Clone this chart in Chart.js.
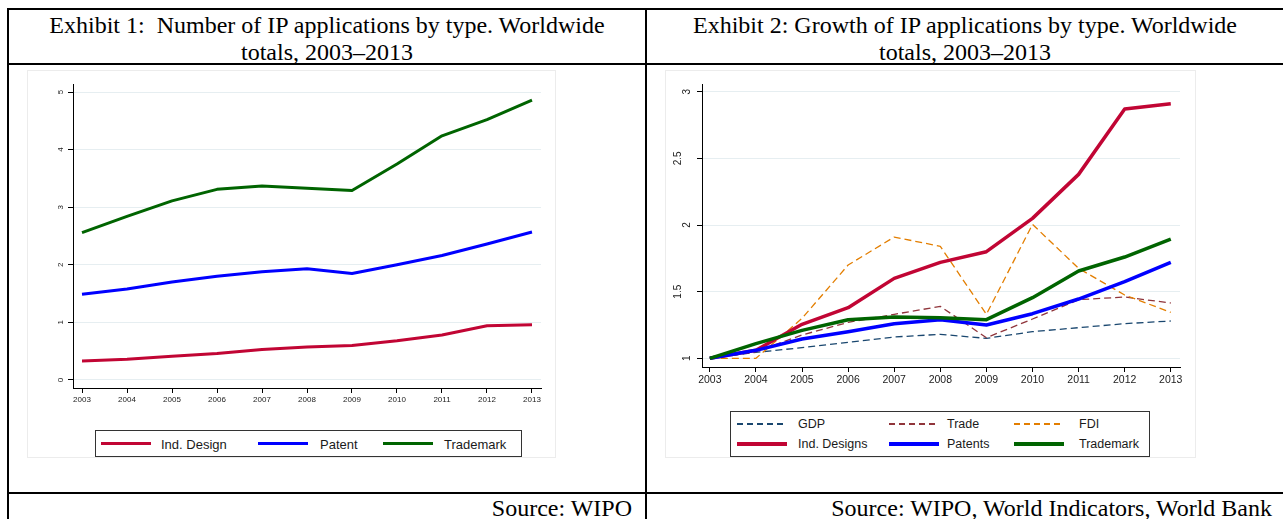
<!DOCTYPE html>
<html>
<head>
<meta charset="utf-8">
<script src="https://cdn.jsdelivr.net/npm/chart.js@4.4.1/dist/chart.umd.min.js"></script>
<style>
  body { margin:0; background:#fff; width:1283px; height:519px; overflow:hidden; position:relative; }
  .rule { position:absolute; background:#000; }
  .serif { position:absolute; font-family:"Liberation Serif","Times New Roman",serif; font-size:24px; line-height:27px; color:#000; white-space:pre; }
  .head { display:flex; align-items:center; justify-content:center; text-align:center; }
  .src { text-align:right; }
  .region { position:absolute; border:1px solid #ececec; box-sizing:border-box; }
  canvas { position:absolute; }
  .legend { position:absolute; border:1px solid #333; box-sizing:border-box; background:#fff;
            font-family:"Liberation Sans",Arial,sans-serif; color:#1a1a1a; }
  .legend .ln { position:absolute; width:50px; }
  .legend .tx { position:absolute; white-space:nowrap; transform:translateY(-50%); }
</style>
</head>
<body>
<!-- table rules -->
<div class="rule" style="left:7px;top:8px;width:1276px;height:2px"></div>
<div class="rule" style="left:7px;top:63px;width:1276px;height:2px"></div>
<div class="rule" style="left:7px;top:492px;width:1276px;height:2px"></div>
<div class="rule" style="left:7px;top:8px;width:2px;height:511px"></div>
<div class="rule" style="left:645px;top:8px;width:2px;height:511px"></div>

<div class="serif head" style="left:9px;top:12px;width:636px;height:53px">Exhibit 1:  Number of IP applications by type. Worldwide
totals, 2003–2013</div>
<div class="serif head" style="left:647px;top:12px;width:636px;height:53px">Exhibit 2: Growth of IP applications by type. Worldwide
totals, 2003–2013</div>
<div class="serif src" style="left:9px;top:495px;width:623px">Source: WIPO</div>
<div class="serif src" style="left:647px;top:495px;width:625px">Source: WIPO, World Indicators, World Bank</div>

<div class="region" style="left:27px;top:70px;width:529px;height:388px"></div>
<div class="region" style="left:665px;top:70px;width:531px;height:388px"></div>

<canvas id="countChart" width="528" height="350" style="left:27px;top:70px"></canvas>
<canvas id="growthChart" width="530" height="320" style="left:665px;top:70px"></canvas>

<div id="countLegend" class="legend" style="left:95px;top:430px;width:427px;height:27px;font-size:13px"></div>
<div id="growthLegend" class="legend" style="left:730px;top:411px;width:420px;height:46px;font-size:12.5px"></div>

<script>
// years on the x axis
const years = [2003, 2004, 2005, 2006, 2007, 2008, 2009, 2010, 2011, 2012, 2013];
const countTicks = [0, 1, 2, 3, 4, 5];
const growthTicks = [1, 1.5, 2, 2.5, 3];

// Exhibit 1: number of applications (millions)
const designCount    = [0.33, 0.36, 0.41, 0.46, 0.53, 0.57, 0.60, 0.68, 0.78, 0.94, 0.96];
const patentCount    = [1.49, 1.58, 1.70, 1.80, 1.88, 1.93, 1.85, 2.00, 2.16, 2.36, 2.57];
const trademarkCount = [2.56, 2.84, 3.11, 3.31, 3.37, 3.33, 3.29, 3.75, 4.24, 4.52, 4.86];

// Exhibit 2: growth index, 2003 = 1
const gdpGrowth       = [1.00, 1.045, 1.08, 1.12, 1.16, 1.18, 1.15, 1.20, 1.23, 1.26, 1.28];
const tradeGrowth     = [1.00, 1.05, 1.175, 1.27, 1.33, 1.39, 1.155, 1.295, 1.44, 1.46, 1.415];
const fdiGrowth       = [1.00, 1.00, 1.30, 1.70, 1.91, 1.84, 1.33, 2.005, 1.675, 1.475, 1.345];
const designGrowth    = [1.00, 1.06, 1.255, 1.38, 1.60, 1.72, 1.80, 2.05, 2.38, 2.87, 2.91];
const patentGrowth    = [1.00, 1.06, 1.145, 1.20, 1.26, 1.29, 1.25, 1.335, 1.445, 1.575, 1.72];
const trademarkGrowth = [1.00, 1.11, 1.21, 1.29, 1.31, 1.305, 1.29, 1.455, 1.655, 1.76, 1.895];

const RED = "#c10534", BLUE = "#0000ff", GREEN = "#006400";
const NAVY = "#1a476f", MAROON = "#90353b", ORANGE = "#e37e00";
const SANS = '"Liberation Sans", Arial, sans-serif';

function pts(values){
  return years.map((yr, i) => ({ x: yr, y: values[i] }));
}

function series(label, values, color, width, dash, order){
  return {
    label, data: pts(values), borderColor: color, backgroundColor: color,
    borderWidth: width, borderDash: dash || [], order,
    pointRadius: 0, tension: 0, borderJoinStyle: "round", fill: false
  };
}

// shared axis setup; sizes are fixed so the plot box lands where the original one is
function axes(o){
  return {
    x: {
      type: "linear", min: o.xMin, max: o.xMax,
      afterBuildTicks: s => { s.ticks = years.map(v => ({ value: v })); },
      afterFit: s => { s.height = o.xHeight; },
      ticks: { callback: v => String(v), autoSkip: false, maxRotation: 0,
               font: { size: o.xFont, family: SANS }, color: "#222", padding: 2 },
      grid: { drawOnChartArea: false, tickLength: 5, tickColor: "#000" },
      border: { color: "#000", width: 1 }
    },
    y: {
      min: o.yMin, max: o.yMax,
      afterBuildTicks: s => { s.ticks = o.yTicks.map(v => ({ value: v })); },
      afterFit: s => { s.width = o.yWidth; },
      ticks: { callback: o.yLabel, autoSkip: false, minRotation: 90, maxRotation: 90,
               crossAlign: "center", padding: o.yPad,
               font: { size: o.yFont, family: SANS, lineHeight: 1.8 }, color: "#222" },
      grid: { color: "#e6eef1", tickLength: 5, tickColor: "#000" },
      border: { color: "#000", width: 1 }
    }
  };
}

function baseOptions(padding, scales){
  return {
    responsive: false, animation: false, devicePixelRatio: 1,
    layout: { padding },
    plugins: { legend: { display: false }, tooltip: { enabled: false } },
    scales
  };
}

const countChart = new Chart(document.getElementById("countChart"), {
  type: "line",
  data: { datasets: [
    series("Ind. Design", designCount, RED, 3, null, 3),
    series("Patent", patentCount, BLUE, 3, null, 2),
    series("Trademark", trademarkCount, GREEN, 3, null, 1)
  ]},
  options: baseOptions({ left: 0, top: 14, right: 14, bottom: 0 }, axes({
    xMin: 2002.8, xMax: 2013.2, xHeight: 32, xFont: 8,
    yMin: -0.14, yMax: 5.14, yTicks: countTicks, yWidth: 46, yFont: 8, yPad: 5,
    yLabel: v => String(v)
  }))
});

const growthChart = new Chart(document.getElementById("growthChart"), {
  type: "line",
  data: { datasets: [
    series("GDP", gdpGrowth, NAVY, 1.3, [7, 4], 6),
    series("Trade", tradeGrowth, MAROON, 1.3, [7, 4], 5),
    series("FDI", fdiGrowth, ORANGE, 1.3, [7, 4], 4),
    series("Ind. Designs", designGrowth, RED, 3.5, null, 3),
    series("Patents", patentGrowth, BLUE, 3.5, null, 2),
    series("Trademark", trademarkGrowth, GREEN, 3.5, null, 1)
  ]},
  options: baseOptions({ left: 0, top: 14, right: 15, bottom: 0 }, axes({
    xMin: 2002.83, xMax: 2013.2, xHeight: 23, xFont: 10.5,
    yMin: 0.935, yMax: 3.058, yTicks: growthTicks, yWidth: 37, yFont: 10, yPad: 3,
    // Stata staggers the decimal labels outward
    yLabel: (v, i) => (i % 2 === 1 ? [String(v), ""] : String(v))
  }))
});

// legend boxes in Stata's column layout, filled from the chart's datasets
function buildLegend(el, chart, cols, rowsY){
  chart.data.datasets.forEach((ds, i) => {
    const c = cols[i % cols.length];
    const y = rowsY[Math.floor(i / cols.length)];
    const w = ds.borderWidth < 2 ? 1.3 : ds.borderWidth;
    const ln = document.createElement("div");
    ln.className = "ln";
    ln.style.left = c.line + "px";
    ln.style.top = (y - w / 2) + "px";
    ln.style.height = w + "px";
    ln.style.background = ds.borderDash.length
      ? `repeating-linear-gradient(90deg, ${ds.borderColor} 0 6px, transparent 6px 10px)`
      : ds.borderColor;
    const tx = document.createElement("div");
    tx.className = "tx";
    tx.style.left = c.text + "px";
    tx.style.top = y + "px";
    tx.textContent = ds.label;
    el.appendChild(ln);
    el.appendChild(tx);
  });
}

buildLegend(document.getElementById("countLegend"), countChart,
  [{ line: 5, text: 65 }, { line: 162, text: 224 }, { line: 287, text: 348 }], [12.5]);
buildLegend(document.getElementById("growthLegend"), growthChart,
  [{ line: 6, text: 67 }, { line: 158, text: 216 }, { line: 283, text: 348 }], [12, 32]);
</script>
</body>
</html>
